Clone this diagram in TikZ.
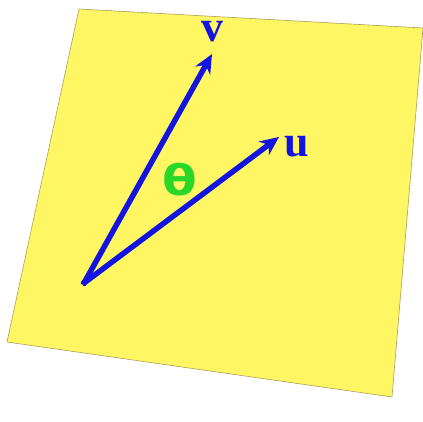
\documentclass[tikz,border=0pt]{standalone}
\usepackage{fontspec}
\setmainfont{Liberation Serif}
\newfontfamily\thetafont{DejaVu Sans}
\usetikzlibrary{arrows.meta}
\definecolor{plane}{RGB}{255,246,100}
\definecolor{planeedge}{RGB}{170,160,90}
\definecolor{vecblue}{RGB}{20,20,225}
\definecolor{anggreen}{RGB}{40,215,40}
\tikzset{
  vec/.style={vecblue, line width=5.5pt, -{Stealth[length=19pt,width=17pt]}, shorten <=-2pt},
  veclabel/.style={text=vecblue, font=\fontsize{44}{44}\selectfont\bfseries, inner sep=0pt},
  anglabel/.style={text=anggreen, font=\thetafont\fontsize{42}{42}\selectfont\bfseries, inner sep=0pt, xscale=1.2}
}
\begin{document}
\begin{tikzpicture}[x=1pt,y=-1pt]
\useasboundingbox (0,0) rectangle (423,422);
\fill[white] (0,0) rectangle (423,422);
\filldraw[fill=plane, draw=planeedge, line width=0.6pt]
  (79,9) -- (423,28) -- (392,397) -- (7,342) -- cycle;
\coordinate (O) at (84,283);
\coordinate (V) at (212,54);
\coordinate (U) at (279,137);
\draw[vec] (O) -- (V);
\draw[vec] (O) -- (U);
\node[veclabel] (lv) at (212,32) {v};
\node[veclabel] (lu) at (297,147) {u};
\node[anglabel] (th) at (180,180) {θ};
\end{tikzpicture}
\end{document}
